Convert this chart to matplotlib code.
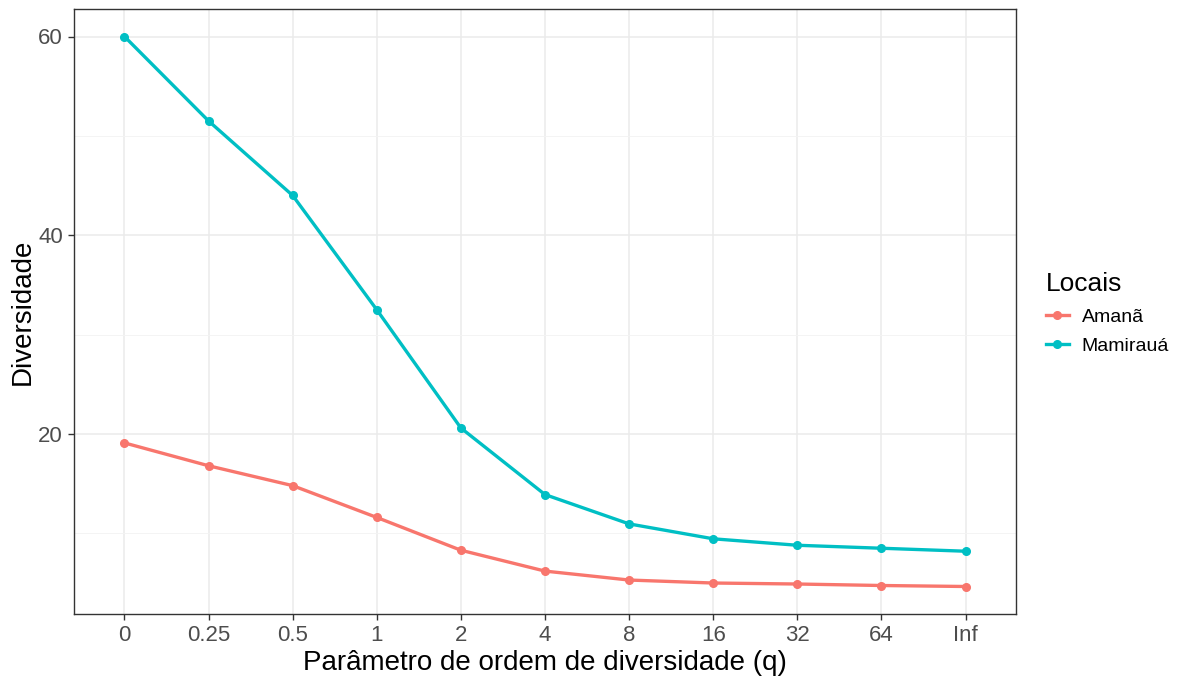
import matplotlib
matplotlib.use("Agg")
import matplotlib.pyplot as plt
from matplotlib.ticker import MultipleLocator
from matplotlib.lines import Line2D

q_labels = ["0", "0.25", "0.5", "1", "2", "4", "8", "16", "32", "64", "Inf"]
amana = [19.1, 16.8, 14.8, 11.6, 8.3, 6.2, 5.3, 5.0, 4.9, 4.75, 4.65]
mamiraua = [60.0, 51.5, 44.0, 32.5, 20.6, 13.9, 10.95, 9.45, 8.8, 8.5, 8.2]
series_names = ["Amanã", "Mamirauá"]
colors = ["#F8766D", "#00BFC4"]

plt.rcParams['font.family'] = ['Liberation Sans', 'DejaVu Sans']

fig = plt.figure(figsize=(11.84, 6.77), dpi=100)
ax = fig.add_axes([74/1184, 1 - 614/677, (1016 - 74)/1184, (614 - 9)/677])

x = list(range(len(q_labels)))
for vals, name, c in zip([amana, mamiraua], series_names, colors):
    ax.plot(x, vals, color=c, lw=2.4, marker='o', ms=5.5, label=name, zorder=3)

ax.set_xlim(-0.6, len(q_labels) - 1 + 0.6)
ymin = min(amana + mamiraua); ymax = max(amana + mamiraua)
pad = (ymax - ymin) * 0.05
ax.set_ylim(ymin - pad, ymax + pad)
ax.set_xticks(x)
ax.set_xticklabels(q_labels)
ax.yaxis.set_major_locator(MultipleLocator(20))
ax.yaxis.set_minor_locator(MultipleLocator(10))
ax.grid(which='major', color='#EBEBEB', lw=1.1, zorder=0)
ax.grid(which='minor', axis='y', color='#F3F3F3', lw=0.6, zorder=0)
ax.set_axisbelow(True)
for s in ax.spines.values():
    s.set_color('#333333')
    s.set_linewidth(1.0)
ax.tick_params(which='major', length=4, width=1, color='#333333', labelsize=16, labelcolor='#4D4D4D', pad=4)
ax.tick_params(which='minor', length=0)

ax.set_xlabel("Parâmetro de ordem de diversidade (q)", fontsize=20, color='black', labelpad=3)
ax.set_ylabel("Diversidade", fontsize=20, color='black', labelpad=2)

handles = [Line2D([0], [0], color=c, lw=2.4, marker='o', ms=5.5) for c in colors]
leg = fig.legend(handles, series_names, title="Locais", loc='upper left',
                 bbox_to_anchor=(1028/1184, 1 - 255/677), frameon=False,
                 fontsize=14, title_fontsize=19, handlelength=1.2,
                 handletextpad=0.65, labelspacing=0.6)
leg._legend_box.align = "left"

fig.savefig("out.png", dpi=100)
